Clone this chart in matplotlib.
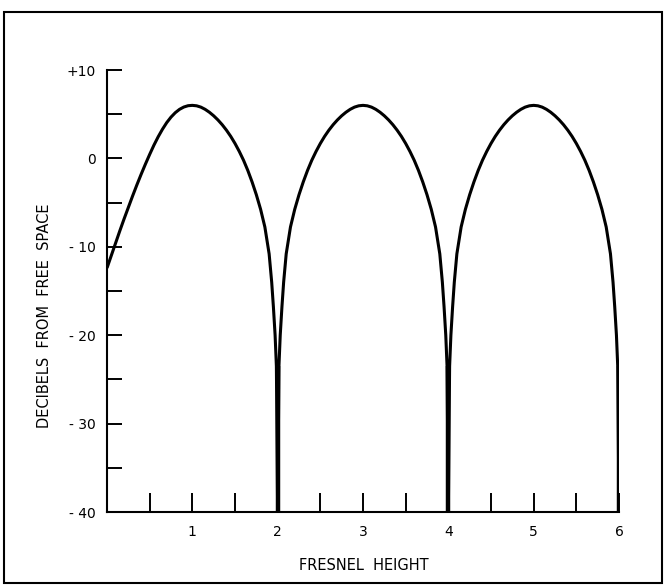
import matplotlib
matplotlib.use("Agg")
import matplotlib.pyplot as plt
from matplotlib.patches import Rectangle

# Fresnel height (x) and decibels from free space (y)
fresnel_height = [
    0.00, 0.05, 0.10, 0.15, 0.20, 0.25, 0.30, 0.35, 0.40, 0.45, 0.50,
    0.55, 0.60, 0.65, 0.70, 0.75, 0.80, 0.85, 0.90, 0.95, 1.00,
    1.05, 1.10, 1.15, 1.20, 1.25, 1.30, 1.35, 1.40, 1.45, 1.50,
    1.55, 1.60, 1.65, 1.70, 1.75, 1.80, 1.85, 1.90, 1.93, 1.95, 1.97, 1.985, 2.00,
    2.015, 2.03, 2.05, 2.07, 2.10, 2.15, 2.20, 2.25, 2.30, 2.35, 2.40,
    2.45, 2.50, 2.55, 2.60, 2.65, 2.70, 2.75, 2.80, 2.85, 2.90, 2.95, 3.00,
    3.05, 3.10, 3.15, 3.20, 3.25, 3.30, 3.35, 3.40, 3.45, 3.50,
    3.55, 3.60, 3.65, 3.70, 3.75, 3.80, 3.85, 3.90, 3.93, 3.95, 3.97, 3.985, 4.00,
    4.015, 4.03, 4.05, 4.07, 4.10, 4.15, 4.20, 4.25, 4.30, 4.35, 4.40,
    4.45, 4.50, 4.55, 4.60, 4.65, 4.70, 4.75, 4.80, 4.85, 4.90, 4.95, 5.00,
    5.05, 5.10, 5.15, 5.20, 5.25, 5.30, 5.35, 5.40, 5.45, 5.50,
    5.55, 5.60, 5.65, 5.70, 5.75, 5.80, 5.85, 5.90, 5.93, 5.95, 5.97, 5.985, 6.00,
]
decibels = [
    -12.4, -11.0, -9.6, -8.2, -6.85, -5.55, -4.25, -3.0, -1.8, -0.65, 0.45,
    1.5, 2.45, 3.3, 4.05, 4.67, 5.17, 5.55, 5.81, 5.96, 6.0,
    5.95, 5.8, 5.55, 5.22, 4.82, 4.35, 3.81, 3.19, 2.49, 1.69,
    0.79, -0.21, -1.36, -2.66, -4.11, -5.76, -7.76, -10.8, -14.0, -16.8, -20.0, -23.5, -40.0,
    -23.5, -20.0, -16.8, -14.0, -10.8, -7.76, -5.76, -4.11, -2.66, -1.36, -0.21,
    0.79, 1.69, 2.49, 3.19, 3.81, 4.35, 4.82, 5.22, 5.55, 5.8, 5.95, 6.0,
    5.95, 5.8, 5.55, 5.22, 4.82, 4.35, 3.81, 3.19, 2.49, 1.69,
    0.79, -0.21, -1.36, -2.66, -4.11, -5.76, -7.76, -10.8, -14.0, -16.8, -20.0, -23.5, -40.0,
    -23.5, -20.0, -16.8, -14.0, -10.8, -7.76, -5.76, -4.11, -2.66, -1.36, -0.21,
    0.79, 1.69, 2.49, 3.19, 3.81, 4.35, 4.82, 5.22, 5.55, 5.8, 5.95, 6.0,
    5.95, 5.8, 5.55, 5.22, 4.82, 4.35, 3.81, 3.19, 2.49, 1.69,
    0.79, -0.21, -1.36, -2.66, -4.11, -5.76, -7.76, -10.8, -14.0, -16.8, -20.0, -23.5, -40.0,
]

# null positions where the trace falls to the bottom of the scale
null_heights = [2, 4, 6]
null_top_db = [-23.5, -23.5, -23.5]

y_major = [-40, -30, -20, -10, 0, 10]
y_labels = ["- 40", "- 30", "- 20", "- 10", "0", "+10"]
y_minor = [-35, -25, -15, -5, 5]
x_major = [1, 2, 3, 4, 5, 6]
x_labels = ["1", "2", "3", "4", "5", "6"]
x_minor = [0.5, 1.5, 2.5, 3.5, 4.5, 5.5]

fig = plt.figure(figsize=(6.64, 5.86), dpi=100)
ax = fig.add_axes([107/664, 1-512/586, (619-107)/664, (512-70)/586])

ax.plot(fresnel_height, decibels, color="black", lw=2.2,
        solid_joinstyle="round", solid_capstyle="butt")
for xh, yt in zip(null_heights, null_top_db):
    ax.plot([xh, xh], [-40, yt], color="black", lw=3.2, solid_capstyle="butt")

ax.set_xlim(0, 6)
ax.set_ylim(-40, 10)
for s in ["top", "right"]:
    ax.spines[s].set_visible(False)
for s in ["left", "bottom"]:
    ax.spines[s].set_linewidth(1.5)

ax.set_yticks(y_major)
ax.set_yticklabels(y_labels)
ax.set_yticks(y_minor, minor=True)
ax.set_xticks(x_major)
ax.set_xticklabels(x_labels)
ax.set_xticks(x_minor, minor=True)

ax.tick_params(axis="y", which="both", direction="in", length=11, width=1.4,
               pad=8, labelsize=10)
ax.tick_params(axis="x", which="both", direction="in", length=13.5, width=1.4,
               pad=9, labelsize=10)

fig.text(364/664, 1-565/586, "FRESNEL  HEIGHT", ha="center", va="center", fontsize=10.5)
fig.text(45/664, 1-316/586, "DECIBELS  FROM  FREE  SPACE", ha="center", va="center",
         rotation=90, fontsize=10.5)

fig.patches.append(Rectangle((4/664, 1-583/586), 658/664, 571/586, transform=fig.transFigure,
                             fill=False, edgecolor="black", lw=1.5))

fig.savefig("out.png", dpi=100)
